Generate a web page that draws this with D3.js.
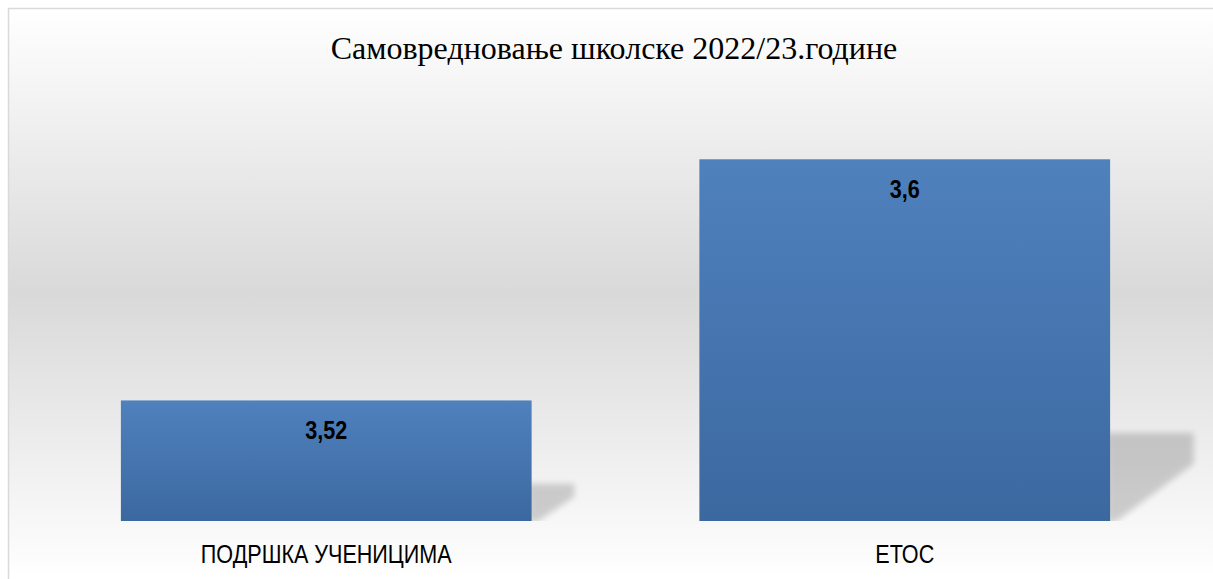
<!DOCTYPE html>
<html>
<head>
<meta charset="utf-8">
<script src="https://cdn.jsdelivr.net/npm/d3@7"></script>
<style>
	body { margin: 0; background: #ffffff; }
	svg { display: block; }
</style>
</head>
<body>
<div id="chart-area"></div>
<script>
// chart data
let title = "Самовредновање школске 2022/23.године";
let categories = ["ПОДРШКА УЧЕНИЦИМА", "ЕТОС"];
let values = [3.52, 3.6];
let valueLabels = ["3,52", "3,6"];
let yDomain = [3.48, 3.62];

// SVG Size
let width = 1213,
	height = 579;

// no narrow font installed, so squeeze the sans labels horizontally
let narrow = 0.83;
let sansFont = '"Liberation Sans", Arial, sans-serif';

let data = categories.map((c, i) => ({ category: c, value: values[i], label: valueLabels[i] }));

let xScale = d3.scaleBand()
			.domain(categories)
			.range([37, 1194])
			.paddingInner(0.29)
			.paddingOuter(0.145)

let yScale = d3.scaleLinear()
			.domain(yDomain)
			.range([521, 99])

let svg = d3.select("#chart-area")
			.append('svg')
			.attr('width', width)
			.attr('height', height);

let defs = svg.append('defs');

// background gradient (white - gray - white)
let bg = defs.append('linearGradient')
			.attr('id', 'bg-grad')
			.attr('gradientUnits', 'userSpaceOnUse')
			.attr('x1', 0).attr('y1', 9)
			.attr('x2', 0).attr('y2', 579);
bg.append('stop').attr('offset', '0%').attr('stop-color', '#ffffff');
bg.append('stop').attr('offset', '50%').attr('stop-color', '#d9d9d9');
bg.append('stop').attr('offset', '100%').attr('stop-color', '#ffffff');

// bar gradient
let barGrad = defs.append('linearGradient')
			.attr('id', 'bar-grad')
			.attr('x1', 0).attr('y1', 0)
			.attr('x2', 0).attr('y2', 1);
barGrad.append('stop').attr('offset', '0%').attr('stop-color', '#4f81bd');
barGrad.append('stop').attr('offset', '100%').attr('stop-color', '#3c68a0');

defs.append('filter')
	.attr('id', 'blur')
	.attr('x', '-20%').attr('y', '-20%')
	.attr('width', '140%').attr('height', '140%')
	.append('feGaussianBlur')
	.attr('stdDeviation', 3);

defs.append('clipPath')
	.attr('id', 'plot-clip')
	.append('rect')
	.attr('x', 0).attr('y', 0)
	.attr('width', width).attr('height', yScale(yDomain[0]));

// chart frame
svg.append('rect')
	.attr('x', 8.5)
	.attr('y', 8.5)
	.attr('width', width + 20)
	.attr('height', height + 20)
	.attr('fill', 'url(#bg-grad)')
	.attr('stroke', '#d9d9d9')
	.attr('stroke-width', 1.5);

svg.append('text')
	.attr('x', 614)
	.attr('y', 59)
	.attr('text-anchor', 'middle')
	.attr('font-family', '"Liberation Serif", "Times New Roman", serif')
	.attr('font-size', 32)
	.attr('fill', '#000000')
	.text(title);

// perspective shadows behind the bars
let base = yScale(yDomain[0]);
svg.append('g')
	.attr('clip-path', 'url(#plot-clip)')
	.selectAll('polygon')
	.data(data)
	.enter()
	.append('polygon')
	.attr('points', (d) => {
		let right = xScale(d.category) + xScale.bandwidth();
		let h = base - yScale(d.value);
		let sh = 0.21 * h + 12;
		let sw = 0.17 * h + 22;
		return [
			[right - 4, base],
			[right - 4, base - sh],
			[right + sw, base - sh],
			[right + sw, base - sh * 0.65],
			[right + 4, base + 2]
		].map(p => p.join(',')).join(' ');
	})
	.attr('fill', '#000000')
	.attr('opacity', 0.17)
	.attr('filter', 'url(#blur)');

svg.selectAll('rect.bar')
	.data(data)
	.enter()
	.append('rect')
	.attr('class', 'bar')
	.attr('x', (d) => xScale(d.category))
	.attr('y', (d) => yScale(d.value))
	.attr('width', xScale.bandwidth())
	.attr('height', (d) => base - yScale(d.value))
	.attr('fill', 'url(#bar-grad)');

svg.selectAll('text.value')
	.data(data)
	.enter()
	.append('text')
	.attr('class', 'value')
	.attr('transform', (d) => 'translate(' + (xScale(d.category) + xScale.bandwidth() / 2) + ',' + (yScale(d.value) + 39) + ') scale(' + narrow + ',1)')
	.attr('text-anchor', 'middle')
	.attr('font-family', sansFont)
	.attr('font-weight', 'bold')
	.attr('font-size', 26)
	.attr('fill', '#000000')
	.text((d) => d.label);

// category axis labels (no axis line in the original)
let xAxis = d3.axisBottom(xScale).tickSize(0).tickPadding(0);
let x = svg.append('g')
	.attr('class', 'axis x-axis')
	.attr('transform', 'translate(0,' + 563 + ')')
	.call(xAxis);
x.select('.domain').remove();
x.selectAll('text')
	.attr('dy', null)
	.attr('y', 0)
	.attr('transform', 'scale(' + narrow + ',1)')
	.attr('font-family', sansFont)
	.attr('font-size', 26)
	.attr('fill', '#000000');
</script>
</body>
</html>
